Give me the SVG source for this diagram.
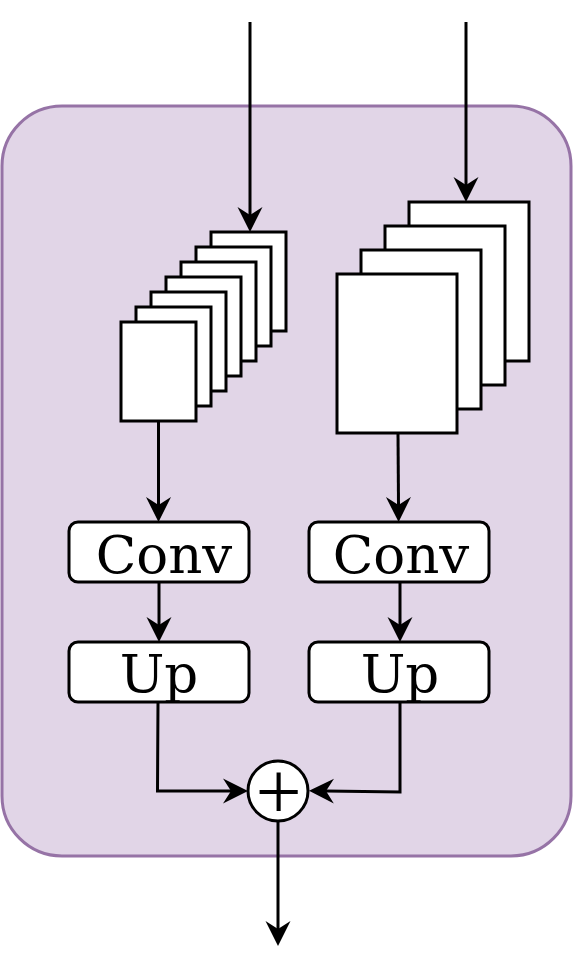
<svg xmlns="http://www.w3.org/2000/svg" width="573" height="972" viewBox="0 0 573 972">
<style>
.sheet{fill:#ffffff;stroke:#000000;stroke-width:3}
.box{fill:#ffffff;stroke:#000000;stroke-width:3}
.lbl{font-family:"DejaVu Serif","Liberation Serif",serif;font-size:53px;fill:#000000;text-anchor:middle}
.plus{font-family:"Liberation Serif","DejaVu Serif",serif;font-size:82px;fill:#000000;text-anchor:middle}
.edge{fill:none;stroke:#000000;stroke-width:3;marker-end:url(#arr)}
</style>
<defs>
<marker id="arr" markerUnits="userSpaceOnUse" markerWidth="26" markerHeight="26" viewBox="0 -13 26 26" refX="8" refY="0" orient="auto">
<path d="M25,0 L0,-12.5 L8,0 L0,12.5 Z" fill="#000000"/>
</marker>
</defs>
<g id="container">
<rect x="2" y="106" width="569" height="750" rx="60" ry="60" fill="#e1d5e7" stroke="#9673a6" stroke-width="3"/>
</g>
<g id="stack-left">
<rect class="sheet" x="211" y="232" width="75" height="99"/>
<rect class="sheet" x="196" y="247" width="75" height="99"/>
<rect class="sheet" x="181" y="262" width="75" height="99"/>
<rect class="sheet" x="166" y="277" width="75" height="99"/>
<rect class="sheet" x="151" y="292" width="75" height="99"/>
<rect class="sheet" x="136" y="307" width="75" height="99"/>
<rect class="sheet" x="121" y="322" width="75" height="99"/>
</g>
<g id="stack-right">
<rect class="sheet" x="409" y="202" width="120" height="159"/>
<rect class="sheet" x="385" y="226" width="120" height="159"/>
<rect class="sheet" x="361" y="250" width="120" height="159"/>
<rect class="sheet" x="337" y="274" width="120" height="159"/>
</g>
<g id="conv-left">
<rect class="box" x="69" y="522" width="180" height="60" rx="9"/>
<text class="lbl" x="164" y="573">Conv</text>
</g>
<g id="conv-right">
<rect class="box" x="309" y="522" width="180" height="60" rx="9"/>
<text class="lbl" x="401" y="573">Conv</text>
</g>
<g id="up-left">
<rect class="box" x="69" y="642" width="180" height="60" rx="9"/>
<text class="lbl" x="159" y="692">Up</text>
</g>
<g id="up-right">
<rect class="box" x="309" y="642" width="180" height="60" rx="9"/>
<text class="lbl" x="400" y="692">Up</text>
</g>
<g id="sum">
<circle cx="278" cy="791" r="30" fill="#ffffff" stroke="#000000" stroke-width="3"/>
<text class="plus" x="278.5" y="819">+</text>
</g>
<g id="connectors">
<path class="edge" d="M250,22 L250,215"/>
<path class="edge" d="M466,22 L466,185"/>
<path class="edge" d="M158.5,421 L158.5,505"/>
<path class="edge" d="M398,433 L398.5,505"/>
<path class="edge" d="M159,582 L159,625"/>
<path class="edge" d="M400,582 L400,625"/>
<path class="edge" d="M158,702 L157.5,791 L231,791"/>
<path class="edge" d="M400,702 L400,792 L326,791"/>
<path class="edge" d="M278,821 L278,929"/>
</g>
</svg>
